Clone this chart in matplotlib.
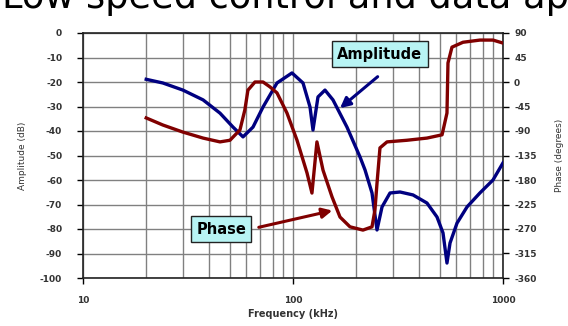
import numpy as np
import matplotlib
matplotlib.use("Agg")
import matplotlib.pyplot as plt
from matplotlib.ticker import LogLocator, NullFormatter, FixedLocator

plt.rcParams["axes.unicode_minus"] = False

# values
amp_freq = [20.0, 24.0, 29.9, 37.3, 44.9, 51.8, 57.8, 64.5, 72.0, 83.9, 98.9,
            111.6, 120.5, 124.5, 131.5, 142.0, 155.0, 180.7, 208.5, 220.3,
            237.8, 251.2, 265.4, 289.7, 323.4, 372.8, 434.5, 485.0, 518.0,
            541.0, 559.5, 604.0, 674.0, 776.0, 896.0, 1000.0]
amp_db = [-18.9, -20.4, -23.3, -27.3, -32.7, -38.4, -42.4, -38.4, -30.2, -20.4,
          -16.3, -20.4, -30.2, -39.6, -26.1, -23.3, -27.3, -38.4, -50.6, -55.9,
          -65.3, -80.4, -71.0, -65.3, -64.9, -66.1, -69.4, -75.1, -81.6, -93.9,
          -85.7, -77.6, -71.0, -65.3, -60.0, -53.0]

ph_freq = [20.0, 24.0, 29.9, 37.3, 44.9, 50.1, 55.9, 59.0, 61.0, 65.9, 72.0,
           77.7, 83.9, 93.6, 104.5, 111.6, 116.6, 123.1, 130.0, 139.0, 153.4,
           167.4, 186.8, 215.4, 237.8, 245.6, 251.2, 259.5, 280.3, 349.0,
           434.5, 512.6, 541.0, 547.0, 571.5, 645.0, 776.0, 896.0, 990.0]
ph_deg = [-66, -79, -92, -103, -110, -107, -88, -51, -15, 0, 0, -9, -20, -57,
          -107, -143, -167, -204, -110, -162, -211, -248, -266, -272, -266,
          -235, -186, -121, -110, -107, -103, -97, -57, 35, 64, 73, 77, 77, 72]

amp_ticks = list(range(-100, 1, 10))
ph_ticks = list(range(-360, 91, 45))

navy = "#000080"
maroon = "#800000"
tick_col = "#333333"

fig = plt.figure(figsize=(5.68, 3.26), dpi=100)
fig.patch.set_facecolor("white")

# title, cut at the top edge like the screenshot
fig.text(0.004, 0.976, "Low speed control and data applications", fontsize=26.5,
         color="black", ha="left", va="baseline", family="DejaVu Sans")

ax = fig.add_axes([83 / 568, 48 / 326, 420 / 568, 245 / 326])
ax.set_xscale("log")
ax.set_xlim(10, 1000)
ax.set_ylim(-100, 0)

ax.xaxis.set_major_locator(FixedLocator([10, 100, 1000]))
ax.xaxis.set_minor_locator(LogLocator(base=10, subs=np.arange(2, 10)))
ax.xaxis.set_minor_formatter(NullFormatter())
ax.set_xticklabels(["10", "100", "1000"])
ax.set_yticks(amp_ticks)

ax.grid(True, which="both", axis="x", color="#808080", lw=1)
ax.grid(True, which="major", axis="y", color="#808080", lw=1)
ax.set_axisbelow(True)

ax.tick_params(axis="x", which="major", length=4, width=1, pad=9,
               labelsize=6.5, labelcolor=tick_col)
ax.tick_params(axis="x", which="minor", length=0)
ax.tick_params(axis="y", length=4, width=1, pad=11, labelsize=6.5,
               labelcolor=tick_col)
for lab in ax.get_xticklabels() + ax.get_yticklabels():
    lab.set_fontweight("bold")

for s in ax.spines.values():
    s.set_color("#222222")
    s.set_linewidth(1.2)

ax.plot(amp_freq, amp_db, color=navy, lw=2.4, zorder=4)

ax.set_xlabel("Frequency (kHz)", fontsize=7, fontweight="bold",
              color=tick_col, labelpad=3)
ax.set_ylabel("Amplitude (dB)", fontsize=6.5, color=tick_col, labelpad=9)

ax2 = ax.twinx()
ax2.set_ylim(-360, 90)
ax2.set_yticks(ph_ticks)
ax2.tick_params(axis="y", length=4, width=1, pad=4, labelsize=6.5,
                labelcolor=tick_col)
for lab in ax2.get_yticklabels():
    lab.set_fontweight("bold")
for s in ax2.spines.values():
    s.set_visible(False)
ax2.plot(ph_freq, ph_deg, color=maroon, lw=2.4, zorder=3)
ax2.set_ylabel("Phase (degrees)", fontsize=6.5, color=tick_col,
               rotation=90, labelpad=13)

# callout boxes with arrows
box = dict(boxstyle="square,pad=0.35", fc="#b8f4f4", ec="#222222", lw=1)
ax.text(0.707, 0.914, "Amplitude", transform=ax.transAxes, ha="center",
        va="center", fontsize=10.5, fontweight="bold", bbox=box, zorder=6)
ax.annotate("", xy=(163.7, -31.4), xytext=(259, -17.1),
            arrowprops=dict(arrowstyle="-|>,head_length=0.6,head_width=0.3",
                            color=navy, lw=2.2), zorder=6)

ax.text(0.329, 0.2, "Phase", transform=ax.transAxes, ha="center",
        va="center", fontsize=10.5, fontweight="bold", bbox=box, zorder=6)
ax2.annotate("", xy=(158.5, -235), xytext=(66.7, -268),
             arrowprops=dict(arrowstyle="-|>,head_length=0.6,head_width=0.3",
                             color=maroon, lw=2.2), zorder=5)

fig.savefig("out.png", dpi=100)
